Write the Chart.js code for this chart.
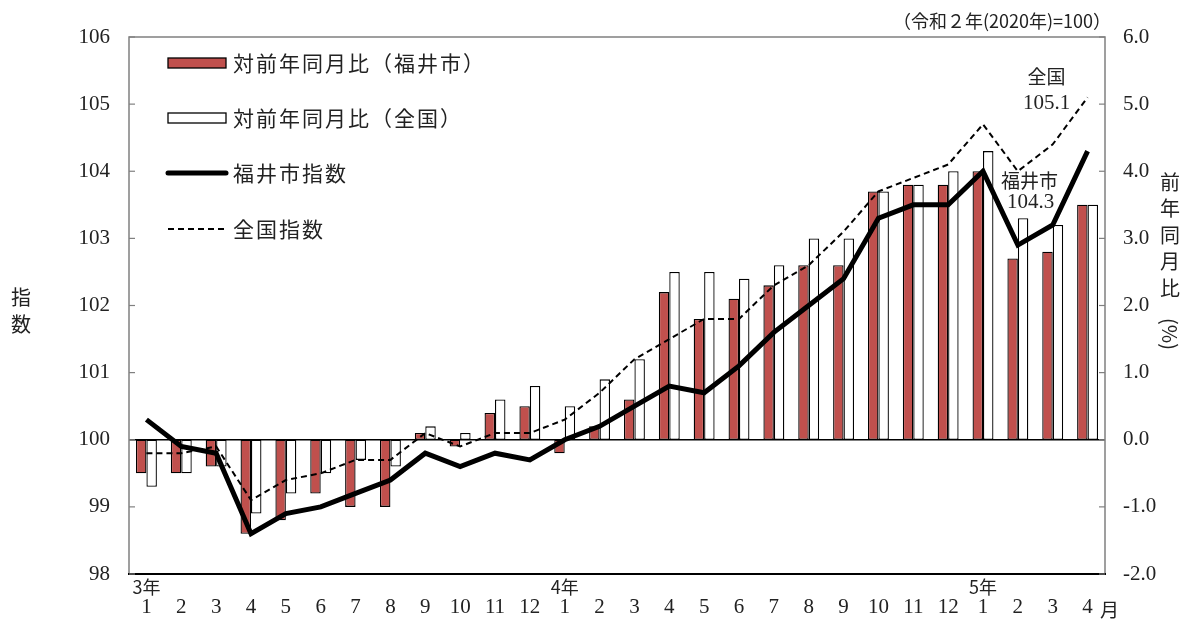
<!DOCTYPE html>
<html lang="ja">
<head>
<meta charset="utf-8">
<title>消費者物価指数 福井市・全国</title>
<script src="https://cdn.jsdelivr.net/npm/chart.js@4.4.1/dist/chart.umd.min.js"></script>
<style>
  html, body { margin: 0; padding: 0; background: #fff; }
  #wrap { width: 1186px; height: 624px; position: relative; }
</style>
</head>
<body>
<div id="wrap"><canvas id="cpiChart"></canvas></div>
<script>
// months: 令和3年1月 .. 令和5年4月
const monthLabels = ['1','2','3','4','5','6','7','8','9','10','11','12',
                     '1','2','3','4','5','6','7','8','9','10','11','12',
                     '1','2','3','4'];
const yearLabels = [[0, '3年'], [12, '4年'], [24, '5年']];

// 対前年同月比 (%)
const fukuiYoY = [-0.5, -0.5, -0.4, -1.4, -1.2, -0.8, -1.0, -1.0, 0.1, -0.1, 0.4, 0.5,
                  -0.2, 0.2, 0.6, 2.2, 1.8, 2.1, 2.3, 2.6, 2.6, 3.7, 3.8, 3.8,
                  4.0, 2.7, 2.8, 3.5];
const nationalYoY = [-0.7, -0.5, -0.4, -1.1, -0.8, -0.5, -0.3, -0.4, 0.2, 0.1, 0.6, 0.8,
                     0.5, 0.9, 1.2, 2.5, 2.5, 2.4, 2.6, 3.0, 3.0, 3.7, 3.8, 4.0,
                     4.3, 3.3, 3.2, 3.5];

// 指数 (令和2年=100)
const fukuiIndex = [100.3, 99.9, 99.8, 98.6, 98.9, 99.0, 99.2, 99.4, 99.8, 99.6, 99.8, 99.7,
                    100.0, 100.2, 100.5, 100.8, 100.7, 101.1, 101.6, 102.0, 102.4, 103.3, 103.5, 103.5,
                    104.0, 102.9, 103.2, 104.3];
const nationalIndex = [99.8, 99.8, 99.9, 99.1, 99.4, 99.5, 99.7, 99.7, 100.1, 99.9, 100.1, 100.1,
                       100.3, 100.7, 101.2, 101.5, 101.8, 101.8, 102.3, 102.6, 103.1, 103.7, 103.9, 104.1,
                       104.7, 104.0, 104.4, 105.1];

const SERIF = '"Liberation Serif", "DejaVu Serif", serif';
const JP = '"Noto Sans CJK JP", "Noto Sans", sans-serif';
const RED = '#c0504d';
const AXIS_GRAY = '#808080';

// frame, inner ticks, legend and all the free texts
const decorPlugin = {
    id: 'decor',
    beforeDatasetsDraw(chart) {
        const { ctx, chartArea: a, scales } = chart;
        const y0 = scales.y1.getPixelForValue(0);
        ctx.save();
        ctx.strokeStyle = '#000';
        ctx.lineWidth = 1.5;
        ctx.beginPath();
        ctx.moveTo(a.left, y0);
        ctx.lineTo(a.right, y0);
        ctx.stroke();
        ctx.restore();
    },
    afterDraw(chart) {
        const { ctx, chartArea: a, scales } = chart;
        const x = scales.x;
        ctx.save();

        // frame
        ctx.lineWidth = 1.5;
        ctx.strokeStyle = AXIS_GRAY;
        ctx.beginPath();
        ctx.moveTo(a.left, a.bottom);
        ctx.lineTo(a.left, a.top);
        ctx.lineTo(a.right, a.top);
        ctx.lineTo(a.right, a.bottom);
        ctx.stroke();
        ctx.strokeStyle = '#000';
        ctx.lineWidth = 2;
        ctx.beginPath();
        ctx.moveTo(a.left - 1, a.bottom);
        ctx.lineTo(a.right + 1, a.bottom);
        ctx.stroke();

        // inner tick marks
        ctx.strokeStyle = AXIS_GRAY;
        ctx.lineWidth = 1.2;
        scales.y.ticks.forEach(t => {
            const py = scales.y.getPixelForValue(t.value);
            ctx.beginPath();
            ctx.moveTo(a.left, py);
            ctx.lineTo(a.left + 6, py);
            ctx.stroke();
        });
        scales.y1.ticks.forEach(t => {
            const py = scales.y1.getPixelForValue(t.value);
            ctx.beginPath();
            ctx.moveTo(a.right, py);
            ctx.lineTo(a.right - 6, py);
            ctx.stroke();
        });

        ctx.fillStyle = '#222';
        ctx.textBaseline = 'middle';

        // year labels and 月
        ctx.textAlign = 'center';
        ctx.font = '18px ' + JP;
        yearLabels.forEach(([i, txt]) => {
            ctx.fillText(txt, x.getPixelForValue(i), a.bottom + 13);
        });
        ctx.font = '19px ' + JP;
        ctx.fillText('月', x.getPixelForValue(monthLabels.length - 1) + 22, a.bottom + 36);

        // left axis title
        ctx.font = '20px ' + JP;
        ctx.fillText('指', 21, 297);
        ctx.fillText('数', 21, 324);

        // right axis title, vertical
        const vt = ['前', '年', '同', '月', '比'];
        vt.forEach((c, i) => ctx.fillText(c, 1170, 182 + i * 26.5));
        ctx.save();
        ctx.translate(1170, 334);
        ctx.rotate(Math.PI / 2);
        ctx.fillText('(%)', 0, 0);
        ctx.restore();

        // base note
        ctx.font = '18px ' + JP;
        ctx.textAlign = 'right';
        ctx.fillText('（令和２年(2020年)=100）', a.right + 6, 21);

        // end-point notes
        const last = fukuiIndex.length - 1;
        const lx = x.getPixelForValue(last);
        ctx.textAlign = 'center';
        ctx.font = '19px ' + JP;
        ctx.fillText('全国', lx - 41, 77);
        ctx.font = '21px ' + SERIF;
        ctx.fillText(nationalIndex[last].toFixed(1), lx - 41, 103);
        ctx.font = '19px ' + JP;
        ctx.fillText('福井市', lx - 58, 181);
        ctx.font = '21px ' + SERIF;
        ctx.fillText(fukuiIndex[last].toFixed(1), lx - 57, 202);

        // legend
        const ds = chart.data.datasets;
        const lgX = a.left + 39;
        const rows = [
            { d: ds[2], y: 63, kind: 'box' },
            { d: ds[3], y: 118, kind: 'box' },
            { d: ds[0], y: 173, kind: 'line' },
            { d: ds[1], y: 229, kind: 'line' }
        ];
        rows.forEach(r => {
            ctx.save();
            if (r.kind === 'box') {
                ctx.fillStyle = r.d.backgroundColor;
                ctx.strokeStyle = '#000';
                ctx.lineWidth = 1.3;
                ctx.fillRect(lgX, r.y - 5, 58, 10);
                ctx.strokeRect(lgX, r.y - 5, 58, 10);
            } else {
                ctx.strokeStyle = r.d.borderColor;
                ctx.lineWidth = r.d.borderWidth;
                ctx.setLineDash(r.d.borderDash || []);
                ctx.lineCap = r.d.borderDash ? 'butt' : 'round';
                ctx.beginPath();
                ctx.moveTo(lgX, r.y);
                ctx.lineTo(lgX + 58, r.y);
                ctx.stroke();
            }
            ctx.restore();
            ctx.font = '21px ' + JP;
            ctx.textAlign = 'left';
            ctx.fillStyle = '#222';
            ctx.letterSpacing = '2px';
            ctx.fillText(r.d.label, lgX + 65, r.y);
            ctx.letterSpacing = '0px';
        });

        ctx.restore();
    }
};

const ctx = document.getElementById('cpiChart').getContext('2d');
new Chart(ctx, {
    type: 'bar',
    data: {
        labels: monthLabels,
        datasets: [
            {
                type: 'line',
                label: '福井市指数',
                data: fukuiIndex,
                yAxisID: 'y',
                borderColor: '#000',
                borderWidth: 5,
                pointRadius: 0,
                tension: 0,
                order: 0
            },
            {
                type: 'line',
                label: '全国指数',
                data: nationalIndex,
                yAxisID: 'y',
                borderColor: '#000',
                borderWidth: 2,
                borderDash: [6, 4],
                pointRadius: 0,
                tension: 0,
                order: 1
            },
            {
                label: '対前年同月比（福井市）',
                data: fukuiYoY,
                yAxisID: 'y1',
                backgroundColor: RED,
                borderColor: '#000',
                borderWidth: 1.3,
                borderSkipped: false,
                barPercentage: 1,
                categoryPercentage: 0.6,
                order: 2
            },
            {
                label: '対前年同月比（全国）',
                data: nationalYoY,
                yAxisID: 'y1',
                backgroundColor: '#fff',
                borderColor: '#000',
                borderWidth: 1.3,
                borderSkipped: false,
                barPercentage: 1,
                categoryPercentage: 0.6,
                order: 2
            }
        ]
    },
    options: {
        responsive: true,
        maintainAspectRatio: false,
        animation: false,
        layout: { padding: { top: 37, left: 0, right: 0, bottom: 0 } },
        plugins: {
            legend: { display: false },
            tooltip: { enabled: false }
        },
        scales: {
            x: {
                offset: true,
                grid: { display: false, drawTicks: false },
                border: { display: false },
                ticks: {
                    autoSkip: false,
                    maxRotation: 0,
                    padding: 21,
                    color: '#222',
                    font: { family: SERIF, size: 21 }
                },
                afterFit(scale) { scale.height = 50; }
            },
            y: {
                position: 'left',
                min: 98,
                max: 106,
                grid: { display: false, drawTicks: false },
                border: { display: false },
                ticks: {
                    stepSize: 1,
                    padding: 19,
                    color: '#222',
                    font: { family: SERIF, size: 21 }
                },
                afterFit(scale) { scale.width = 129; }
            },
            y1: {
                position: 'right',
                min: -2,
                max: 6,
                grid: { display: false, drawTicks: false },
                border: { display: false },
                ticks: {
                    stepSize: 1,
                    padding: 18,
                    color: '#222',
                    font: { family: SERIF, size: 21 },
                    callback: v => v.toFixed(1)
                },
                afterFit(scale) { scale.width = 81; }
            }
        }
    },
    plugins: [decorPlugin]
});
</script>
</body>
</html>
